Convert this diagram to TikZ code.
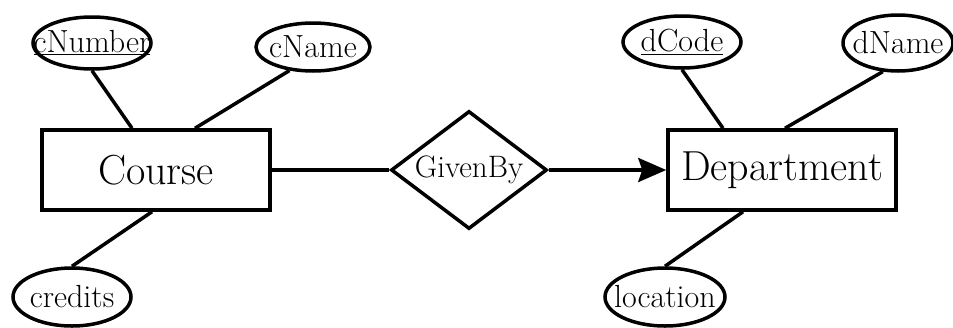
\documentclass[tikz,border=0pt]{standalone}
\usepackage{fontspec}
\usetikzlibrary{shapes.geometric,arrows.meta}
\newcommand{\key}[1]{\underline{#1}}
\newcommand{\lbl}[1]{\makebox[0pt]{#1}}

\begin{document}
\begin{tikzpicture}[x=1pt,y=-1pt,
    entity/.style={draw,line width=3.5pt,minimum width=228pt,minimum height=80pt,inner sep=0pt,font=\fontsize{42}{44}\selectfont},
    attr/.style={draw,ellipse,line width=3.5pt,inner sep=0pt,font=\fontsize{32}{34}\selectfont},
    rel/.style={draw,diamond,line width=3.5pt,minimum width=156pt,minimum height=118pt,inner sep=0pt,font=\fontsize{31}{33}\selectfont},
    link/.style={line width=3.5pt}]

    \useasboundingbox (0,0) rectangle (953,327);

    % draw entities and relationship
    \node[entity] (course) at (156,170) {Course};
    \node[entity] (department) at (782,170) {Department};
    \node[rel] (givenby) at (469,170) {\lbl{GivenBy}};

    % draw attributes
    \node[attr,minimum width=118pt,minimum height=52pt] (cnumber) at (92,43) {\lbl{\key{cNumber}}};
    \node[attr,minimum width=114pt,minimum height=48pt] (cname) at (313,47) {\lbl{cName}};
    \node[attr,minimum width=118pt,minimum height=58pt] (credits) at (72,297) {\lbl{credits}};
    \node[attr,minimum width=118pt,minimum height=52pt] (dcode) at (682,42) {\lbl{\key{dCode}}};
    \node[attr,minimum width=110pt,minimum height=56pt] (dname) at (898,43) {\lbl{dName}};
    \node[attr,minimum width=120pt,minimum height=58pt] (location) at (665,297) {\lbl{location}};

    % draw attribute lines
    \draw[link] (cnumber.south) -- ([xshift=-24pt]course.north);
    \draw[link] (cname.225) -- ([xshift=39pt]course.north);
    \draw[link] (credits.north) -- ([xshift=-4pt]course.south);
    \draw[link] (dcode.south) -- ([xshift=-59pt]department.north);
    \draw[link] (dname.242) -- ([xshift=3pt]department.north);
    \draw[link] (location.north) -- ([xshift=-39pt]department.south);

    % draw relationship lines
    \draw[link] (course) -- (givenby);
    \draw[link,-{Stealth[length=28pt,width=24pt,inset=4pt]}] (givenby) -- (department);
\end{tikzpicture}
\end{document}
